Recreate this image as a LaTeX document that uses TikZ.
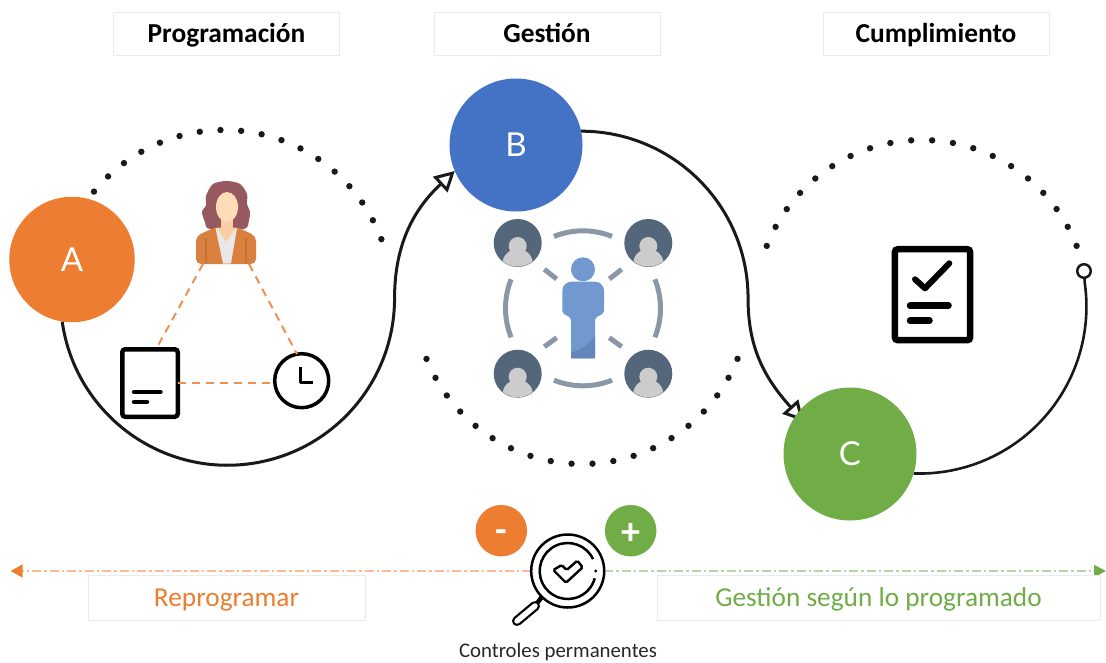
\documentclass[tikz,border=0pt]{standalone}
\usepackage{fontspec}
\setmainfont{Carlito}
\newfontfamily\letterfont{Lato}
\usetikzlibrary{arrows.meta,backgrounds}
\definecolor{orangeA}{HTML}{ED7D31}
\definecolor{blueB}{HTML}{4472C4}
\definecolor{greenC}{HTML}{70AD47}
\definecolor{slate}{HTML}{54667A}
\definecolor{ringgrey}{HTML}{8A97A6}
\definecolor{figblue}{HTML}{7299CF}
\definecolor{figdark}{HTML}{6287B8}
\definecolor{hair}{HTML}{96595F}
\definecolor{jacket}{HTML}{D9803F}
\definecolor{jacketdark}{HTML}{C46F36}
\definecolor{skin}{HTML}{FDDDB8}
\newcommand{\fsize}[1]{\fontsize{#1}{#1}\selectfont}
\tikzset{
	main/.style = {circle, inner sep=0pt, outer sep=0pt, text=white, font=\letterfont\fsize{33}},
	titlebox/.style = {draw=black!8, fill=white, inner sep=0pt, minimum width=226pt, minimum height=43pt, text height=24pt, text depth=6pt, font=\bfseries\fsize{27.4}},
	footbox/.style = {draw=black!8, fill=white, inner sep=0pt, minimum height=45pt, text height=23pt, text depth=6pt, font=\fsize{27.3}},
	flow/.style = {draw=black!90, line width=3pt},
	flowtip/.style = {-{Triangle[fill=white, length=20pt, width=21pt, line width=3pt]}},
	dot/.style = {fill=black!90},
	link/.style = {draw=orangeA!85, line width=2pt, dash pattern=on 8pt off 6pt},
	sheet/.style = {draw=black, fill=white, rounded corners=3pt, inner sep=0pt, outer sep=0pt},
	sign/.style = {circle, inner sep=0pt, outer sep=0pt, minimum size=51.5pt, text=white, font=\bfseries\fsize{38}},
	scale line/.style = {line width=2pt, dash pattern=on 9pt off 3pt on 2.5pt off 3pt},
	stroke/.style = {line width=5pt, draw=ringgrey}
}
\begin{document}
\begin{tikzpicture}[x=1pt, y=1pt]
	\useasboundingbox (0,0) rectangle (1106,-662);

	\node[titlebox] (prog) at (226.5,-33.5) {Programación};
	\node[titlebox] (gest) at (547,-33.5) {Gestión};
	\node[titlebox] (cump) at (936,-33.5) {Cumplimiento};

	\node[footbox, minimum width=277pt, text=orangeA] (repro) at (226.5,-597.5) {Reprogramar};
	\node[footbox, minimum width=443pt, text=greenC] (segun) at (878.5,-597.5) {Gestión según lo programado};

	\node[main, fill=orangeA, minimum size=125.5pt] (A) at (72,-259.5) {A};
	\node[main, fill=blueB, minimum size=133pt] (B) at (516,-145) {B};
	\node[main, fill=greenC, minimum size=133pt] (C) at (850,-454) {C};
	\node[circle, draw=black!90, fill=white, line width=2.5pt, minimum size=13.5pt, inner sep=0pt, outer sep=0pt] (ring) at (1084,-271) {};

	\begin{scope}[on background layer]
		\draw[flow, flowtip] (A.261) arc (188:360:167) to[out=90, in=223] (B.203);
		\draw[flow, flowtip, shorten >=-10pt] (B.12) arc (90:0:167) to[out=-90, in=132] (C.143);
		\draw[flow, line width=2.6pt] (C.-17) arc (-92:8:167) -- (ring);
	\end{scope}

	\foreach \i in {0,...,17}
		\fill[dot] (224,-298) ++({140.7-\i*7.07}:168) circle (3.2pt);
	\foreach \i in {0,...,19}
		\fill[dot] (582,-296.4) ++({201.9+\i*7.17}:167.6) circle (3.2pt);
	\foreach \i in {0,...,19}
		\fill[dot] (921.7,-306.3) ++({158.7-\i*7.23}:166.3) circle (3.2pt);

	\node[inner sep=0pt, outer sep=0pt, minimum width=46pt, minimum height=35pt] (woman) at (226,-246.5) {};
	\node[sheet, line width=4.5pt, minimum width=55.5pt, minimum height=67.5pt] (doc) at (150,-383) {};
	\node[circle, draw=black, fill=white, line width=3.5pt, minimum size=54pt, inner sep=0pt, outer sep=0pt] (clock) at (301.7,-380.7) {};
	\draw[link] (woman.south west) -- (doc.80);
	\draw[link] (woman.south east) -- (clock.100);
	\draw[link] (doc.east) -- (doc.east -| clock.west);

	\fill[hair] plot[smooth cycle] coordinates {(227,-181) (213,-184) (206,-196) (206,-205) (202,-212) (205,-222) (210,-229) (244,-229) (249,-220) (250,-212) (247,-204) (247,-194) (240,-184)};
	\fill[jacket, rounded corners=5pt] (196,-264) -- (196,-236) -- (216,-227) -- (237,-227) -- (256,-236) -- (256,-264) -- cycle;
	\fill[black!9] (215.5,-228) -- (223,-263.5) -- (231,-263.5) -- (237,-228) -- cycle;
	\fill[skin!85!jacket] (221,-218) rectangle (233,-230);
	\fill[skin!85!jacket] (217,-228) -- (226,-242) -- (236,-228) -- cycle;
	\fill[skin] (227,-207) ellipse (11pt and 15pt);
	\draw[jacketdark, line width=2pt] (206,-238) -- (206,-263);
	\draw[jacketdark, line width=2pt] (246,-238) -- (246,-263);

	\draw[line width=4.5pt, line cap=round] (134,-392) -- (160.5,-392);
	\draw[line width=4.5pt, line cap=round] (134,-402) -- (147,-402);
	\draw[line width=3.5pt, line join=round] (300.3,-367) -- (300.3,-382.7) -- (312.7,-382.7);

	\foreach \px/\py in {517.7/-243, 648.3/-243, 517.7/-373.7, 648.3/-373.7} {
		\fill[slate] (\px,\py) circle (24pt);
		\begin{scope}
			\clip (\px,\py) circle (23.6pt);
			\fill[black!20] (\px,\py-20) ellipse (15pt and 14pt);
		\end{scope}
		\fill[black!20] (\px,\py-3) circle (9pt);
	}
	\foreach \a in {68,158,248,338}
		\draw[stroke] (583,-308.3) ++(\a:77.5) arc (\a:\a+44:77.5);
	\draw[stroke] (544.3,-269.3) -- (556.7,-279);
	\draw[stroke] (621.7,-269.3) -- (609.3,-279);
	\draw[stroke] (544.3,-346.7) -- (556.7,-337.7);
	\draw[stroke] (621.7,-346.7) -- (609.3,-337.7);

	\fill[figblue] (583,-269.3) circle (12pt);
	\fill[figblue, rounded corners=2pt] (571,-358.3) -- (571,-318) -- (562.3,-313) -- (562.3,-293) [rounded corners=9pt] -- (562.3,-281.7) -- (604,-281.7) -- (604,-300) [rounded corners=2pt] -- (604,-313) -- (595,-318) -- (595,-358.3) -- cycle;
	\fill[figdark] (571,-358.3) -- (595,-358.3) -- (595,-335.7) .. controls (588,-345) and (580,-350) .. (571,-352.5) -- cycle;

	\node[sheet, line width=6.5pt, minimum width=75.3pt, minimum height=91pt] (report) at (932.5,-294.7) {};
	\draw[line width=6pt, line cap=round, line join=round] (915,-279.3) -- (925,-288.3) -- (949.3,-263.3);
	\draw[line width=6.5pt, line cap=round] (910,-305.7) -- (948.5,-305.7);
	\draw[line width=6.5pt, line cap=round] (910,-320.7) -- (929.5,-320.7);

	\node[sign, fill=orangeA, text height=30pt, text depth=6pt] (minus) at (501.3,-530.7) {-};
	\node[sign, fill=greenC, text height=34pt, text depth=6pt] (plus) at (630.7,-530.7) {+};

	\coordinate (leftend) at (10.7,-571);
	\coordinate (rightend) at (1106,-571);
	\node[circle, draw=black, fill=white, line width=2.5pt, minimum size=73pt, inner sep=0pt, outer sep=0pt] (lens) at (567.7,-571) {};
	\begin{scope}[on background layer]
		\draw[scale line, draw=orangeA!50, -{Triangle[length=12pt, width=13pt, orangeA]}] (lens.west) -- (leftend);
		\draw[scale line, draw=greenC!50, -{Triangle[length=12pt, width=12pt, greenC]}] (lens.east) -- (rightend);
	\end{scope}
	\draw[line width=2.5pt] (lens.center) ++(25:28) arc (25:345:28);
	\fill (lens.center) ++(0:28) circle (1.6pt);
	\draw[line width=2.4pt, rounded corners=1.5pt] (553.3,-570) -- (561.7,-565) -- (566.7,-570) -- (577.3,-560.7) -- (582.7,-567.3) -- (566,-582.7) -- cycle;
	\draw[line width=4.5pt] (lens.225) -- (535,-606);
	\draw[line width=10pt, line cap=round] (535,-606) -- (517,-621);
	\draw[white, line width=5.5pt, line cap=round] (535,-606) -- (517,-621);

	\node[text=black!85, font=\fsize{20.8}, inner sep=0pt] (ctrl) at (558,-651.5) {Controles permanentes};
\end{tikzpicture}
\end{document}
